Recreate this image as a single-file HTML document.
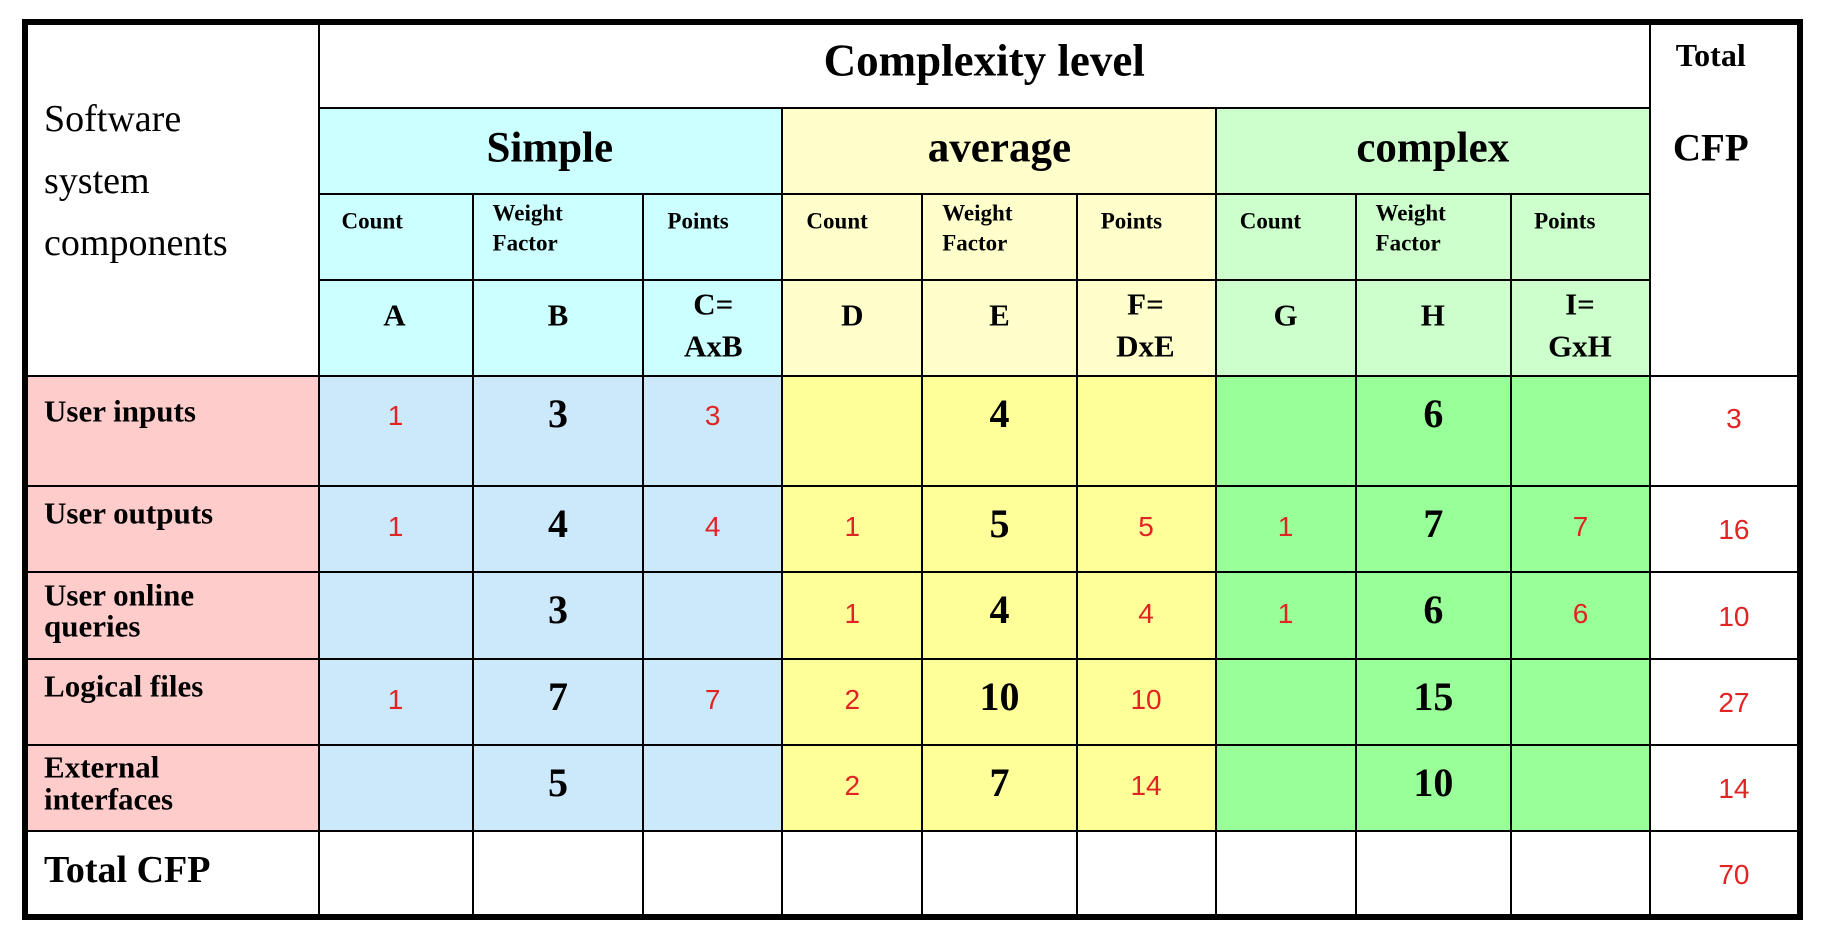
<!DOCTYPE html>
<html><head><meta charset="utf-8">
<style>
html,body{margin:0;padding:0;background:#fff;}
#root{position:relative;width:1825px;height:942px;overflow:hidden;background:#fff;}
.cell{position:absolute;box-sizing:border-box;border:2px solid #000;}
.t{position:absolute;white-space:nowrap;font-family:"Liberation Serif",serif;font-weight:bold;color:#000;transform:translate(-50%,-50%);line-height:1;}
.l{transform:translate(0,-50%);}
.r{font-family:"Liberation Sans","DejaVu Sans",sans-serif;font-weight:normal;color:#e02424;font-size:28px;}
#frame{position:absolute;left:23px;top:20px;width:1779px;height:899px;border:5px solid #000;box-sizing:border-box;pointer-events:none;}
</style></head>
<body>
<div id="root"></div>
<script>
const rowLabels=[["User inputs"],["User outputs"],["User online","queries"],["Logical files"],["External","interfaces"]];
const countsSimple=[1,1,null,1,null];
const weightsSimple=[3,4,3,7,5];
const pointsSimple=[3,4,null,7,null];
const countsAverage=[null,1,1,2,2];
const weightsAverage=[4,5,4,10,7];
const pointsAverage=[null,5,4,10,14];
const countsComplex=[null,1,1,null,null];
const weightsComplex=[6,7,6,15,10];
const pointsComplex=[null,7,6,null,null];
const rowTotals=[3,16,10,27,14];
const grandTotal=70;

const X=d=>23+(d-22)*1.168, Y=d=>20+(d-17)*1.1675;
const colEdges=[22,275,407,553,672,792,924,1043,1163,1296,1415,1545].map(X);
const rowEdges=[17,92,166,240,322,416,490,564,638,712,787].map(Y);
const root=document.getElementById('root');

function cell(x1,y1,x2,y2,bg,name){
  const d=document.createElement('div');d.className='cell';
  d.style.left=(x1-1)+'px';d.style.top=(y1-1)+'px';d.style.width=(x2-x1+2)+'px';d.style.height=(y2-y1+2)+'px';d.style.background=bg;
  
  
  root.appendChild(d);
}
function text(s,x,y,size,cls,name,weight){
  const d=document.createElement('div');d.className='t '+(cls||'');
  d.style.left=x+'px';d.style.top=y+'px';d.style.fontSize=size+'px';d.textContent=s;
  if(weight)d.style.fontWeight=weight;
  
  
  root.appendChild(d);
}
const C=colEdges,R=rowEdges;
const hdrBg=['#ccffff','#ffffcc','#ccffcc'], bodyBg=['#cce9fb','#ffff99','#99ff99'];
cell(C[0],R[0],C[1],R[4],'#fff','components-header');
cell(C[1],R[0],C[10],R[1],'#fff','complexity-header');
cell(C[10],R[0],C[11],R[4],'#fff','total-cfp-header');
const groups=['Simple','average','complex'];
for(let g=0;g<3;g++){
  cell(C[1+3*g],R[1],C[4+3*g],R[2],hdrBg[g],'group-header-'+groups[g].toLowerCase());
  for(let k=0;k<3;k++){
    cell(C[1+3*g+k],R[2],C[2+3*g+k],R[3],hdrBg[g],'subheader-cell');
    cell(C[1+3*g+k],R[3],C[2+3*g+k],R[4],hdrBg[g],'letter-cell');
  }
}
for(let r=0;r<6;r++){
  const y1=R[4+r],y2=R[5+r];
  cell(C[0],y1,C[1],y2,r<5?'#ffcccc':'#fff','row-label-cell');
  for(let c=1;c<10;c++){cell(C[c],y1,C[c+1],y2,r<5?bodyBg[Math.floor((c-1)/3)]:'#fff','data-cell');}
  cell(C[10],y1,C[11],y2,'#fff','row-total-cell');
}
text('Complexity level',X(845),Y(52),45,'','complexity-level-title');
[['Software',102],['system',155],['components',208]].forEach(([s,y])=>text(s,X(40),Y(y),38,'l','software-components-label','normal'));
text('Simple',X(473),Y(127),43,'','simple-header');
text('average',X(858),Y(127),43,'','average-header');
text('complex',X(1229),Y(127),43,'','complex-header');
text('Total',X(1467),Y(47),32,'','total-label');
text('CFP',X(1467),Y(127),39,'','cfp-label');
const cx=[321,719,1090],wx=[424,809,1180],px=[600,971,1342];
for(let g=0;g<3;g++){
  text('Count',X(cx[g]),Y(189),23,'','count-subheader');
  text('Weight',X(wx[g]),Y(182),23,'l','weight-subheader');
  text('Factor',X(wx[g]),Y(208),23,'l','factor-subheader');
  text('Points',X(px[g]),Y(189),23,'','points-subheader');
}
[['A',340],['B',480],['D',732],['E',858],['G',1103],['H',1229]].forEach(([s,x])=>text(s,X(x),Y(270),31,'','column-letter'));
[['C=','AxB',613],['F=','DxE',983],['I=','GxH',1355]].forEach(([a,b,x])=>{text(a,X(x),Y(260),31,'','formula-top');text(b,X(x),Y(296),31,'','formula-bottom');});
const mid=(c)=> (C[c]+C[c+1])/2;
for(let r=0;r<5;r++){
  const y1=R[4+r],y2=R[5+r],h=y2-y1;
  const lab=rowLabels[r];
  if(lab.length==1) text(lab[0],X(40),y1+h*0.32,31,'l','row-label');
  else {text(lab[0],X(40),y1+h*0.26,31,'l','row-label');text(lab[1],X(40),y1+h*0.62,31,'l','row-label');}
  const yw=y1+h*(r==0?0.35:0.44), yr=y1+h*(r==0?0.36:0.48);
  const sets=[[countsSimple,weightsSimple,pointsSimple],[countsAverage,weightsAverage,pointsAverage],[countsComplex,weightsComplex,pointsComplex]];
  sets.forEach(([cnt,w,p],g)=>{
    text(String(w[r]),mid(2+3*g),yw,40,'','weight-value');
    if(cnt[r]!=null) text(String(cnt[r]),mid(1+3*g),yr,28,'r','count-value');
    if(p[r]!=null) text(String(p[r]),mid(3+3*g),yr,28,'r','points-value');
  });
  text(String(rowTotals[r]),mid(10)+8,yr+3,28,'r','row-total-value');
}
text('Total CFP',X(40),Y(745),38,'l','total-cfp-row-label');
text(String(grandTotal),mid(10)+8,Y(749),28,'r','grand-total-value');
const f=document.createElement('div');f.id='frame';


root.appendChild(f);
</script>
</body></html>
